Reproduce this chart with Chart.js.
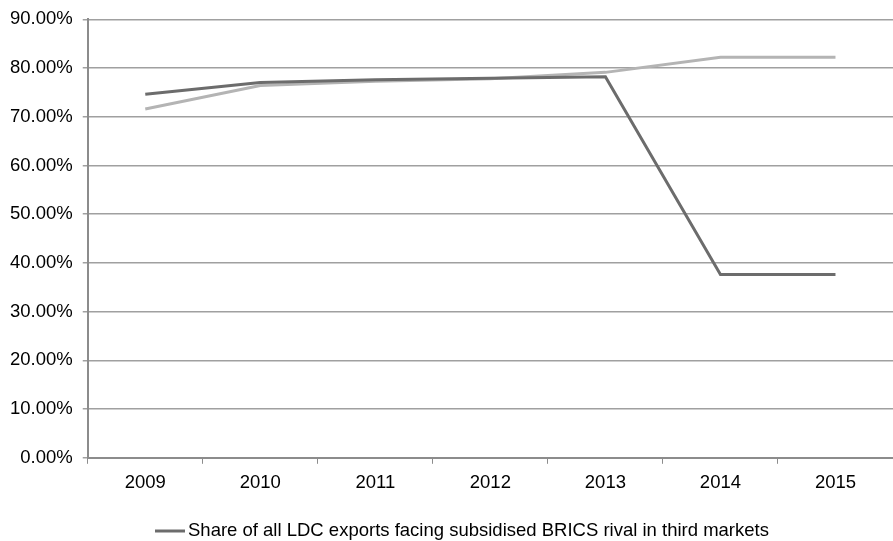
<!DOCTYPE html>
<html>
<head>
<meta charset="utf-8">
<script src="https://cdn.jsdelivr.net/npm/chart.js@4"></script>
<style>
  html, body { margin: 0; padding: 0; background: #fff; }
  #wrap { width: 893px; height: 541px; }
</style>
</head>
<body>
<div id="wrap"><canvas id="chart" width="893" height="541"></canvas></div>
<script>
const years = ["2009", "2010", "2011", "2012", "2013", "2014", "2015"];
const ldcShare = [0.746, 0.770, 0.776, 0.779, 0.782, 0.376, 0.376];
const otherShare = [0.716, 0.764, 0.773, 0.778, 0.791, 0.822, 0.822];
const seriesLabels = ["Share of all LDC exports facing subsidised BRICS rival in third markets", ""];

const ctx = document.getElementById("chart").getContext("2d");
const labelFont = { family: "Liberation Sans", size: 18.5 };

// Legend drawn by hand: only the first series has an entry, placed like the original
const singleLegend = {
	id: "singleLegend",
	afterDraw(chart) {
		const { ctx } = chart;
		const ds = chart.data.datasets[0];
		const y = 531;
		ctx.save();
		ctx.strokeStyle = ds.borderColor;
		ctx.lineWidth = 3;
		ctx.beginPath();
		ctx.moveTo(155, y);
		ctx.lineTo(185, y);
		ctx.stroke();
		ctx.font = labelFont.size + "px " + labelFont.family;
		ctx.fillStyle = "#000";
		ctx.textAlign = "left";
		ctx.textBaseline = "middle";
		ctx.fillText(ds.label, 188, y);
		ctx.restore();
	},
};

new Chart(ctx, {
	type: "line",
	data: {
		labels: years,
		datasets: [
			{
				label: seriesLabels[0],
				data: ldcShare,
				borderColor: "#6c6c6c",
				backgroundColor: "#6c6c6c",
				borderWidth: 3,
				pointRadius: 0,
				tension: 0,
			},
			{
				label: seriesLabels[1],
				data: otherShare,
				borderColor: "#b4b4b4",
				backgroundColor: "#b4b4b4",
				borderWidth: 3,
				pointRadius: 0,
				tension: 0,
			},
		],
	},
	options: {
		responsive: false,
		maintainAspectRatio: false,
		animation: false,
		layout: { padding: { top: 4, right: 0, left: 0, bottom: 39 } },
		scales: {
			x: {
				offset: true,
				grid: {
					display: true,
					offset: true,
					drawOnChartArea: false,
					drawTicks: true,
					tickLength: 6,
					color: "#8c8c8c",
				},
				border: { color: "#8c8c8c", width: 2 },
				ticks: {
					color: "#000",
					font: labelFont,
					padding: 8,
				},
			},
			y: {
				min: 0,
				max: 0.9,
				ticks: {
					stepSize: 0.1,
					color: "#000",
					font: { ...labelFont, lineHeight: 1 },
					padding: 10,
					callback: (v) => (v * 100).toFixed(2) + "%",
				},
				grid: {
					color: "#a0a0a0",
					lineWidth: 1.5,
					tickLength: 5,
				},
				border: { color: "#8c8c8c", width: 2 },
			},
		},
		plugins: {
			legend: { display: false },
			tooltip: { enabled: false },
		},
	},
	plugins: [singleLegend],
});
</script>
</body>
</html>
